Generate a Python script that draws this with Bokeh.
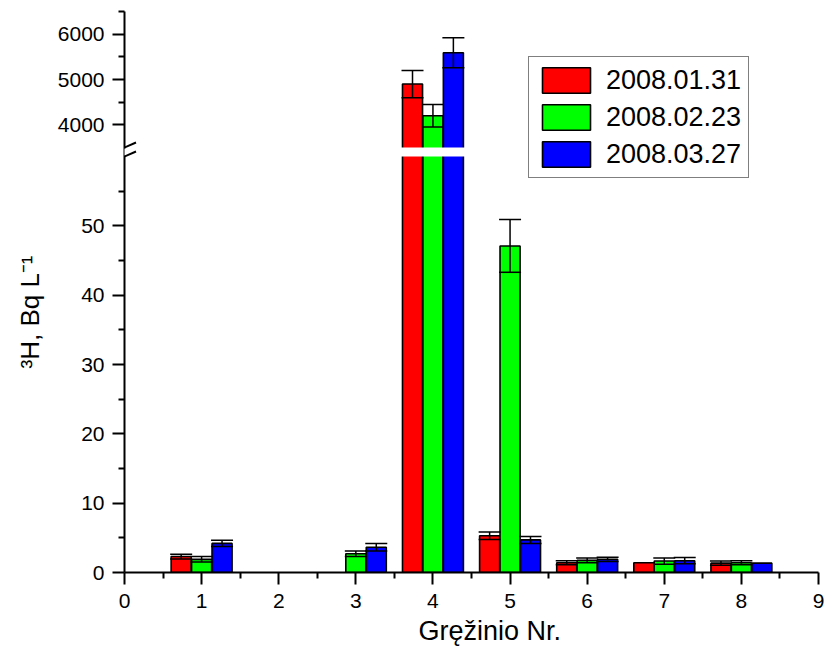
import math
from bokeh.plotting import figure
from bokeh.models import (Range1d, FixedTicker, ColumnDataSource, Whisker, TeeHead,
                          Arrow, Legend, LegendItem, CustomJSTickFormatter, Title)
from bokeh.embed import file_html
from bokeh.resources import INLINE

# ---------------- data ----------------
groups = [1, 2, 3, 4, 5, 6, 7, 8]
series_names = ["2008.01.31", "2008.02.23", "2008.03.27"]
series_colors = ["#FF0000", "#00FF00", "#0000FF"]
values_0131 = [2.3, None, None, 4900, 5.3, 1.4, 1.4, 1.35]
errors_0131 = [0.35, None, None, 300, 0.55, 0.3, None, 0.3]
values_0223 = [1.9, None, 2.7, 4200, 47.1, 1.75, 1.65, 1.4]
errors_0223 = [0.4, None, 0.4, 250, 3.8, 0.35, 0.45, 0.3]
values_0327 = [4.2, None, 3.65, 5590, 4.7, 1.9, 1.7, 1.35]
errors_0327 = [0.45, None, 0.55, 330, 0.5, 0.3, 0.45, None]
x_ticks = [0, 1, 2, 3, 4, 5, 6, 7, 8, 9]
x_minor = [0.5, 1.5, 2.5, 3.5, 4.5, 5.5, 6.5, 7.5, 8.5]
y_ticks_low = [0, 10, 20, 30, 40, 50]
y_minor_low = [5, 15, 25, 35, 45, 55]
y_ticks_high = [4000, 5000, 6000]
y_minor_high = [4500, 5500, 6500]
x_label = "Gręžinio Nr."
y_label = "³H, Bq L⁻¹"

# ---------------- geometry / style ----------------
FONT = "Liberation Sans"
W, H = 825, 656
ML, MT, MR = 124, 11, 7
LOW_PX, GAP_PX, HIGH_PX = 416, 9, 136
FRAME_H = LOW_PX + GAP_PX + HIGH_PX
MB = H - MT - FRAME_H
FRAME_W = W - ML - MR
LOW_MAX, HIGH_MIN, HIGH_MAX = 60.0, 3500.0, 6500.0
X_MIN, X_MAX = 0.0, 9.0
BAR_W = 0.26
OFFSETS = [-0.265, 0.0, 0.265]

low_per_px = LOW_MAX / LOW_PX
high_per_px = (HIGH_MAX - HIGH_MIN) / HIGH_PX
y_end = FRAME_H * low_per_px
top_start = HIGH_MIN - (LOW_PX + GAP_PX) * high_per_px
x_per_px = (X_MAX - X_MIN) / FRAME_W


def high_to_low(v):
    return ((LOW_PX + GAP_PX) + (v - HIGH_MIN) / high_per_px) * low_per_px


p = figure(width=W, height=H, x_range=Range1d(X_MIN, X_MAX), y_range=Range1d(0, y_end),
           output_backend="svg", toolbar_location=None,
           min_border_left=ML, min_border_top=MT, min_border_right=MR, min_border_bottom=MB)
p.extra_y_ranges = {"top": Range1d(top_start, HIGH_MAX)}
p.xgrid.visible = False
p.ygrid.visible = False
p.outline_line_color = None
p.background_fill_color = "white"
p.border_fill_color = "white"

all_vals = [values_0131, values_0223, values_0327]
all_errs = [errors_0131, errors_0223, errors_0327]

# lower-panel bars (heights clipped at the axis break)
low_renderers = []
for vals, off, col in zip(all_vals, OFFSETS, series_colors):
    xs = [g + off for g, v in zip(groups, vals) if v is not None]
    ys = [min(v, LOW_MAX + 1) for v in vals if v is not None]
    src = ColumnDataSource(dict(x=xs, top=ys))
    r = p.vbar(x="x", top="top", bottom=0, width=BAR_W, source=src,
               fill_color=col, line_color="black", line_width=1.6)
    low_renderers.append(r)

# mask hiding the lower-panel bars above the break
p.quad(left=X_MIN - 1, right=X_MAX + 1, bottom=LOW_MAX, top=y_end * 2,
       fill_color="white", line_color=None)

# upper-panel bars
for vals, off, col in zip(all_vals, OFFSETS, series_colors):
    xs = [g + off for g, v in zip(groups, vals) if v is not None and v > HIGH_MIN]
    ys = [v for v in vals if v is not None and v > HIGH_MIN]
    src = ColumnDataSource(dict(x=xs, top=ys))
    p.vbar(x="x", top="top", bottom=HIGH_MIN - 100, width=BAR_W, source=src,
           fill_color=col, line_color="black", line_width=1.6, y_range_name="top")

# gap mask
p.quad(left=X_MIN - 1, right=X_MAX + 1, bottom=HIGH_MIN - 150, top=HIGH_MIN,
       fill_color="white", line_color=None, y_range_name="top")

# error bars
for vals, errs, off in zip(all_vals, all_errs, OFFSETS):
    for panel in ("low", "top"):
        xs, up, lo = [], [], []
        for g, v, e in zip(groups, vals, errs):
            if v is None or e is None:
                continue
            if (panel == "top") != (v > HIGH_MIN):
                continue
            xs.append(g + off)
            up.append(v + e)
            lo.append(v - e)
        src = ColumnDataSource(dict(base=xs, upper=up, lower=lo))
        kw = dict(y_range_name="top") if panel == "top" else {}
        w = Whisker(base="base", upper="upper", lower="lower", source=src, dimension="height",
                    line_color="black", line_width=1.5, level="annotation",
                    upper_head=TeeHead(size=22, line_color="black", line_width=1.5),
                    lower_head=TeeHead(size=22, line_color="black", line_width=1.5), **kw)
        p.add_layout(w)

# axes
xa = p.xaxis[0]
ya = p.yaxis[0]
for ax in (xa, ya):
    ax.axis_line_width = 2
    ax.axis_line_color = "black"
    ax.major_tick_line_width = 2
    ax.minor_tick_line_width = 2
    ax.major_tick_in = 0
    ax.major_tick_out = 12
    ax.minor_tick_in = 0
    ax.minor_tick_out = 6
    ax.major_label_text_font = FONT
    ax.major_label_text_font_size = "21px"
    ax.major_label_text_color = "black"

xa.ticker = FixedTicker(ticks=x_ticks, minor_ticks=x_minor)
xa.major_label_standoff = 9

tick_pos = [float(t) for t in y_ticks_low] + [high_to_low(t) for t in y_ticks_high]
tick_lab = [str(t) for t in y_ticks_low] + [str(t) for t in y_ticks_high]
minor_pos = [float(t) for t in y_minor_low] + [min(high_to_low(t), y_end - 1e-6) for t in y_minor_high]
ya.ticker = FixedTicker(ticks=tick_pos, minor_ticks=minor_pos)
ya.formatter = CustomJSTickFormatter(args=dict(pos=tick_pos, lab=tick_lab), code="""
let best = 0, bd = Infinity;
for (let i = 0; i < pos.length; i++) { const d = Math.abs(pos[i] - tick); if (d < bd) { bd = d; best = i; } }
return lab[best];
""")
ya.major_label_standoff = 8

# axis titles as side-panel titles
p.add_layout(Title(text=x_label, align="left", offset=294, standoff=7,
                   text_font=FONT, text_font_size="27px", text_font_style="normal",
                   text_color="black"), "below")
p.add_layout(Title(text=y_label, align="left", offset=204, standoff=19,
                   text_font=FONT, text_font_size="26px", text_font_style="normal",
                   text_color="black"), "left")

# axis break decoration
gap_lo = LOW_MAX
gap_hi = LOW_MAX + GAP_PX * low_per_px
p.add_layout(Arrow(x_start=X_MIN, y_start=gap_lo + 0.15, x_end=X_MIN, y_end=gap_hi - 0.15, end=None,
                   line_color="white", line_width=6))
dx = 11.5 * x_per_px
dy = 5 * low_per_px
for yc in (gap_lo, gap_hi):
    p.add_layout(Arrow(x_start=X_MIN - dx, y_start=yc - dy, x_end=X_MIN + dx, y_end=yc + dy,
                       end=None, line_color="black", line_width=2))

legend = Legend(items=[LegendItem(label=n, renderers=[r]) for n, r in zip(series_names, low_renderers)],
                location=(404, 394), orientation="vertical",
                label_text_font=FONT, label_text_font_size="27px", label_text_color="black",
                glyph_width=60, glyph_height=32, label_standoff=10, spacing=5, padding=7, margin=0,
                border_line_color="black", border_line_width=1.5, background_fill_color="white",
                background_fill_alpha=1.0)
p.add_layout(legend)

open("out.html", "w").write(file_html(p, INLINE))
